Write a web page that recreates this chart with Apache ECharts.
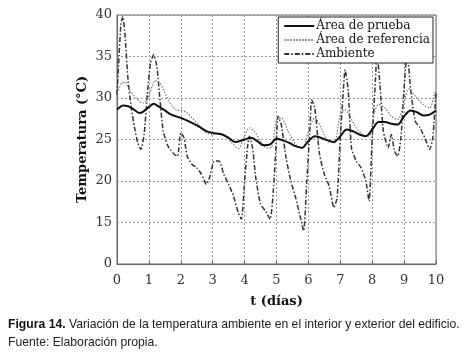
<!DOCTYPE html>
<html>
<head>
<meta charset="utf-8">
<script src="https://cdn.jsdelivr.net/npm/echarts@6/dist/echarts.min.js"></script>
<style>
  html, body { margin: 0; padding: 0; background: #fff; }
  #chart { width: 467px; height: 357px; }
</style>
</head>
<body>
<div id="chart"></div>
<script>
// t (días) y temperatura (°C)
var pruebaT = [0, 0.2, 0.35, 0.5, 0.7, 0.8, 1.0, 1.15, 1.3, 1.5, 1.7, 2.0, 2.3, 2.6, 2.8, 3.0, 3.3, 3.5, 3.7, 4.0, 4.2, 4.4, 4.6, 4.8, 5.0, 5.2, 5.4, 5.6, 5.8, 6.0, 6.2, 6.4, 6.6, 6.8, 7.0, 7.2, 7.4, 7.6, 7.8, 8.0, 8.2, 8.4, 8.6, 8.8, 9.0, 9.2, 9.4, 9.6, 9.8, 10]
var pruebaV = [28.6, 29.1, 29.0, 28.7, 28.2, 28.3, 28.9, 29.3, 29.0, 28.5, 28.0, 27.6, 27.1, 26.5, 26.0, 25.8, 25.6, 25.2, 24.7, 25.0, 25.2, 24.8, 24.3, 24.4, 25.1, 24.9, 24.6, 24.2, 24.0, 24.8, 25.4, 25.2, 24.9, 24.7, 25.4, 26.2, 26.0, 25.6, 25.4, 26.2, 27.1, 27.1, 26.9, 26.8, 27.8, 28.5, 28.3, 27.9, 28.0, 28.5]

var referenciaT = [0, 0.15, 0.25, 0.4, 0.6, 0.8, 0.95, 1.1, 1.2, 1.35, 1.5, 1.7, 1.9, 2.0, 2.2, 2.4, 2.6, 2.8, 3.0, 3.2, 3.4, 3.6, 3.8, 4.0, 4.15, 4.3, 4.5, 4.7, 4.85, 5.0, 5.15, 5.35, 5.6, 5.8, 6.0, 6.2, 6.4, 6.6, 6.8, 7.0, 7.15, 7.3, 7.5, 7.7, 7.9, 8.05, 8.2, 8.4, 8.6, 8.8, 9.0, 9.15, 9.35, 9.6, 9.8, 9.95]
var referenciaV = [30.6, 31.8, 31.9, 30.9, 30.0, 29.4, 29.8, 31.4, 32.1, 31.8, 30.6, 29.2, 28.5, 28.5, 28.2, 27.4, 26.6, 25.8, 25.6, 25.7, 25.4, 24.6, 23.9, 25.4, 26.4, 26.0, 24.8, 24.0, 24.1, 27.4, 27.6, 26.1, 24.4, 23.9, 26.0, 27.6, 26.4, 24.8, 24.6, 28.0, 28.6, 27.8, 26.4, 25.6, 25.4, 28.0, 29.2, 28.8, 27.8, 27.4, 29.6, 31.1, 30.2, 29.2, 28.8, 30.7]

var ambienteT = [0, 0.05, 0.12, 0.18, 0.25, 0.35, 0.45, 0.55, 0.65, 0.75, 0.85, 0.95, 1.05, 1.15, 1.25, 1.35, 1.45, 1.6, 1.8, 1.9, 2.0, 2.1, 2.2, 2.35, 2.5, 2.65, 2.8, 2.9, 3.05, 3.2, 3.35, 3.5, 3.65, 3.8, 3.9, 4.0, 4.1, 4.15, 4.25, 4.35, 4.5, 4.65, 4.8, 4.9, 5.0, 5.05, 5.15, 5.3, 5.45, 5.6, 5.75, 5.85, 5.95, 6.05, 6.1, 6.2, 6.35, 6.5, 6.65, 6.8, 6.9, 7.0, 7.1, 7.15, 7.25, 7.35, 7.5, 7.65, 7.8, 7.9, 8.0, 8.1, 8.15, 8.25, 8.35, 8.5, 8.6, 8.7, 8.8, 8.9, 9.0, 9.1, 9.2, 9.35, 9.5, 9.65, 9.8, 9.9, 10]
var ambienteV = [30.4, 34.0, 38.8, 39.8, 37.6, 32.0, 28.8, 26.4, 24.6, 23.8, 25.6, 30.4, 34.2, 35.2, 33.8, 29.6, 26.0, 24.2, 23.2, 23.0, 25.8, 25.2, 23.0, 22.0, 21.6, 20.8, 19.6, 20.4, 22.4, 22.4, 20.8, 19.6, 18.2, 16.2, 15.4, 20.0, 24.4, 25.4, 24.0, 20.4, 17.2, 16.4, 15.4, 18.8, 25.2, 27.8, 26.8, 22.8, 20.0, 18.0, 15.6, 14.0, 20.0, 26.4, 29.8, 28.8, 23.2, 20.8, 19.4, 16.8, 18.0, 25.2, 31.2, 33.4, 30.8, 24.0, 22.4, 21.6, 20.0, 17.6, 25.2, 32.0, 35.5, 31.2, 26.0, 24.0, 25.6, 23.6, 23.0, 25.2, 31.2, 35.5, 31.2, 27.2, 26.4, 25.2, 23.8, 25.2, 30.8]

var xTicks = [0, 1, 2, 3, 4, 5, 6, 7, 8, 9, 10]

function pairs (ts, vs) {
  return ts.map(function (t, i) { return [t, vs[i]] })
}

var chart = echarts.init(document.getElementById('chart'))
var serif = 'DejaVu Serif'

var option = {
  backgroundColor: '#fff',
  animation: false,
  grid: {
    left: 117, right: 31, top: 15, bottom: 93,
    show: true, borderColor: '#666', borderWidth: 1
  },
  legend: {
    orient: 'vertical',
    right: 34,
    top: 17,
    itemWidth: 30,
    itemHeight: 10,
    itemGap: 2,
    padding: [3, 3, 3, 5],
    backgroundColor: '#fff',
    borderColor: '#222',
    borderWidth: 1,
    itemStyle: { opacity: 0 },
    textStyle: { fontFamily: serif, fontSize: 12, color: '#111', padding: [0, 0, 0, -3] },
    data: ['Área de prueba', 'Área de referencia', 'Ambiente']
  },
  xAxis: {
    type: 'value',
    min: 0, max: 10, interval: 1,
    name: 't (días)',
    nameLocation: 'middle',
    nameGap: 31,
    nameTextStyle: { fontFamily: serif, fontSize: 13, fontWeight: 'bold', color: '#111' },
    axisLine: { lineStyle: { color: '#666' } },
    axisTick: { inside: true, length: 3, lineStyle: { color: '#666' } },
    axisLabel: {
      fontFamily: serif, fontSize: 13, color: '#333', margin: 10,
      formatter: function (v) { return xTicks.indexOf(v) >= 0 ? String(v) : '' }
    },
    splitLine: { show: true, lineStyle: { color: '#999', type: [2, 2], width: 1 } }
  },
  yAxis: {
    type: 'value',
    min: 10, max: 40, interval: 5,
    name: 'Temperatura (°C)',
    nameLocation: 'middle',
    nameGap: 28,
    nameMoveOverlap: false,
    nameTextStyle: { fontFamily: serif, fontSize: 13, fontWeight: 'bold', color: '#111' },
    axisLine: { show: true, lineStyle: { color: '#666' } },
    axisTick: { show: false },
    axisLabel: {
      fontFamily: serif, fontSize: 13, color: '#333', margin: 5,
      formatter: function (v) { return v === 10 ? '0' : String(v) }
    },
    splitLine: { show: true, lineStyle: { color: '#999', type: [2, 2], width: 1 } }
  },
  series: [
    {
      name: 'Área de prueba',
      type: 'line',
      symbol: 'none',
      smooth: 0.3,
      data: pairs(pruebaT, pruebaV),
      lineStyle: { color: '#111', width: 2 },
      itemStyle: { color: '#111' },
      z: 4
    },
    {
      name: 'Área de referencia',
      type: 'line',
      symbol: 'none',
      smooth: 0.3,
      data: pairs(referenciaT, referenciaV),
      lineStyle: { color: '#777', width: 1.2, type: [1.5, 1.5] },
      itemStyle: { color: '#777' },
      z: 3
    },
    {
      name: 'Ambiente',
      type: 'line',
      symbol: 'none',
      smooth: 0.2,
      data: pairs(ambienteT, ambienteV),
      lineStyle: { color: '#333', width: 1.5, type: [5, 2, 1.5, 2] },
      itemStyle: { color: '#333' },
      z: 2
    }
  ],
  graphic: [
    {
      type: 'text',
      left: 8,
      top: 319,
      style: {
        text: '{b|Figura 14.} Variación de la temperatura ambiente en el interior y exterior del edificio.',
        rich: {
          b: { fontFamily: 'Liberation Sans', fontSize: 12.2, fontWeight: 'bold', fill: '#111' }
        },
        fontFamily: 'Liberation Sans',
        fontSize: 12.2,
        fill: '#222'
      }
    },
    {
      type: 'text',
      left: 8,
      top: 337,
      style: {
        text: 'Fuente: Elaboración propia.',
        fontFamily: 'Liberation Sans',
        fontSize: 12.2,
        fill: '#222'
      }
    }
  ]
}

chart.setOption(option)
</script>
</body>
</html>
